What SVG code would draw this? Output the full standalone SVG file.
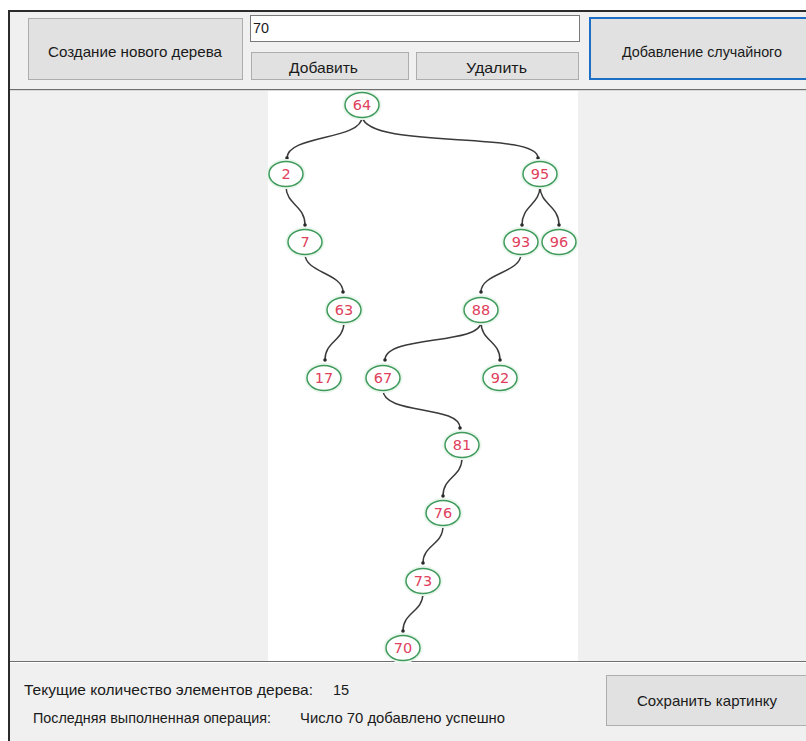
<svg xmlns="http://www.w3.org/2000/svg" width="806" height="741" viewBox="0 0 806 741">
<defs>
<style>
.ui{font-family:"Liberation Sans","DejaVu Sans",sans-serif;font-size:14.5px;fill:#1a1a1a}
.btn{fill:#e1e1e1;stroke:#adadad;stroke-width:1}
.nd ellipse{fill:#ffffff;stroke:#3f9a5c;stroke-width:1.5}
.nd .halo{fill:none;stroke:#e8f6ec;stroke-width:3}
.nd text{font-family:"DejaVu Sans","Noto Sans",sans-serif;font-size:14.5px;fill:#e0405c;text-anchor:middle}
.edge{fill:none;stroke:#3a3a3a;stroke-width:1.5}
.dot{fill:#2a2a2a}
</style>
</defs>
<rect x="0" y="0" width="806" height="741" fill="#ffffff"/>
<rect x="9" y="11" width="797" height="730" fill="#f0f0f0"/>
<line x1="8" y1="11" x2="806" y2="11" stroke="#2b2b2b" stroke-width="2"/>
<line x1="9" y1="10" x2="9" y2="741" stroke="#2b2b2b" stroke-width="2"/>
<!-- canvas -->
<rect x="268" y="90" width="310" height="571" fill="#ffffff"/>
<line x1="10" y1="89.5" x2="806" y2="89.5" stroke="#6e6e6e" stroke-width="1"/>
<line x1="10" y1="90.5" x2="806" y2="90.5" stroke="#d8d8d8" stroke-width="1"/>
<line x1="10" y1="661.5" x2="806" y2="661.5" stroke="#6e6e6e" stroke-width="1"/>
<line x1="10" y1="662.5" x2="806" y2="662.5" stroke="#ffffff" stroke-width="1"/>
<!-- top controls -->
<g id="btn-create"><rect class="btn" x="28.5" y="18.5" width="214" height="61"/><text class="ui" x="48" y="57" textLength="174" lengthAdjust="spacingAndGlyphs">Создание нового дерева</text></g>
<g id="input"><rect x="250.5" y="15.5" width="329" height="26" fill="#ffffff" stroke="#7a7a7a"/><text class="ui" x="253" y="33" textLength="16" lengthAdjust="spacingAndGlyphs">70</text></g>
<g id="btn-add"><rect class="btn" x="251.5" y="52.5" width="157" height="27"/><text class="ui" x="289" y="73" textLength="69" lengthAdjust="spacingAndGlyphs">Добавить</text></g>
<g id="btn-del"><rect class="btn" x="416.5" y="52.5" width="162" height="27"/><text class="ui" x="466" y="73" textLength="61" lengthAdjust="spacingAndGlyphs">Удалить</text></g>
<g id="btn-random"><rect x="590" y="18" width="230" height="61" fill="#e1e1e1" stroke="#1c6fc4" stroke-width="2"/><text class="ui" x="622" y="57" textLength="160" lengthAdjust="spacingAndGlyphs">Добавление случайного</text></g>
<!-- bottom -->
<g id="count"><text class="ui" x="24" y="695" textLength="289" lengthAdjust="spacingAndGlyphs">Текущие количество элементов дерева:</text><text class="ui" x="333" y="695">15</text></g>
<g id="lastop"><text class="ui" x="33" y="723" textLength="238" lengthAdjust="spacingAndGlyphs">Последняя выполненная операция:</text><text class="ui" x="300" y="723" textLength="205" lengthAdjust="spacingAndGlyphs">Число 70 добавлено успешно</text></g>
<g id="btn-save"><rect class="btn" x="606.5" y="675.5" width="210" height="50"/><text class="ui" x="637" y="706" textLength="140" lengthAdjust="spacingAndGlyphs">Сохранить картинку</text></g>
<!-- connectors -->
<g id="connectors">
<path class="edge" d="M362,117 C362,140 287,135 287,158"/>
<path class="edge" d="M362,117 C370,150 538,130 538,158"/>
<path class="edge" d="M540,186 C540,205 522,205 522,225"/>
<path class="edge" d="M540,186 C540,205 559,205 559,225"/>
<path class="edge" d="M286,186 C286,205 305,205 305,225"/>
<path class="edge" d="M305,254 C305,273 343,273 343,292"/>
<path class="edge" d="M521,254 C521,273 481,273 481,292"/>
<path class="edge" d="M344,322 C344,341 325,341 325,360"/>
<path class="edge" d="M481,322 C481,345 385,335 385,360"/>
<path class="edge" d="M481,322 C481,341 500,341 500,360"/>
<path class="edge" d="M383,390 C383,415 460,405 460,428"/>
<path class="edge" d="M462,458 C462,477 443,477 443,496"/>
<path class="edge" d="M443,526 C443,545 423,545 423,563"/>
<path class="edge" d="M423,593 C423,612 403,612 403,631"/>
<circle class="dot" cx="287" cy="158" r="1.8"/>
<circle class="dot" cx="538" cy="158" r="1.8"/>
<circle class="dot" cx="522" cy="225" r="1.8"/>
<circle class="dot" cx="559" cy="225" r="1.8"/>
<circle class="dot" cx="305" cy="225" r="1.8"/>
<circle class="dot" cx="343" cy="292" r="1.8"/>
<circle class="dot" cx="481" cy="292" r="1.8"/>
<circle class="dot" cx="325" cy="360" r="1.8"/>
<circle class="dot" cx="385" cy="360" r="1.8"/>
<circle class="dot" cx="500" cy="360" r="1.8"/>
<circle class="dot" cx="460" cy="428" r="1.8"/>
<circle class="dot" cx="443" cy="496" r="1.8"/>
<circle class="dot" cx="423" cy="563" r="1.8"/>
<circle class="dot" cx="403" cy="631" r="1.8"/>
</g>
<!-- nodes -->
<g id="n64" class="nd"><ellipse class="halo" cx="362" cy="105" rx="18" ry="13.5"/><ellipse cx="362" cy="105" rx="17" ry="12.5"/><text x="362" y="110">64</text></g>
<g id="n2" class="nd"><ellipse class="halo" cx="286" cy="174" rx="18" ry="13.5"/><ellipse cx="286" cy="174" rx="17" ry="12.5"/><text x="286" y="179">2</text></g>
<g id="n95" class="nd"><ellipse class="halo" cx="540" cy="174" rx="18" ry="13.5"/><ellipse cx="540" cy="174" rx="17" ry="12.5"/><text x="540" y="179">95</text></g>
<g id="n7" class="nd"><ellipse class="halo" cx="305" cy="242" rx="18" ry="13.5"/><ellipse cx="305" cy="242" rx="17" ry="12.5"/><text x="305" y="247">7</text></g>
<g id="n93" class="nd"><ellipse class="halo" cx="521" cy="242" rx="18" ry="13.5"/><ellipse cx="521" cy="242" rx="17" ry="12.5"/><text x="521" y="247">93</text></g>
<g id="n96" class="nd"><ellipse class="halo" cx="559" cy="242" rx="18" ry="13.5"/><ellipse cx="559" cy="242" rx="17" ry="12.5"/><text x="559" y="247">96</text></g>
<g id="n63" class="nd"><ellipse class="halo" cx="344" cy="310" rx="18" ry="13.5"/><ellipse cx="344" cy="310" rx="17" ry="12.5"/><text x="344" y="315">63</text></g>
<g id="n88" class="nd"><ellipse class="halo" cx="481" cy="310" rx="18" ry="13.5"/><ellipse cx="481" cy="310" rx="17" ry="12.5"/><text x="481" y="315">88</text></g>
<g id="n17" class="nd"><ellipse class="halo" cx="324" cy="378" rx="18" ry="13.5"/><ellipse cx="324" cy="378" rx="17" ry="12.5"/><text x="324" y="383">17</text></g>
<g id="n67" class="nd"><ellipse class="halo" cx="383" cy="378" rx="18" ry="13.5"/><ellipse cx="383" cy="378" rx="17" ry="12.5"/><text x="383" y="383">67</text></g>
<g id="n92" class="nd"><ellipse class="halo" cx="500" cy="378" rx="18" ry="13.5"/><ellipse cx="500" cy="378" rx="17" ry="12.5"/><text x="500" y="383">92</text></g>
<g id="n81" class="nd"><ellipse class="halo" cx="462" cy="445" rx="18" ry="13.5"/><ellipse cx="462" cy="445" rx="17" ry="12.5"/><text x="462" y="450">81</text></g>
<g id="n76" class="nd"><ellipse class="halo" cx="443" cy="513" rx="18" ry="13.5"/><ellipse cx="443" cy="513" rx="17" ry="12.5"/><text x="443" y="518">76</text></g>
<g id="n73" class="nd"><ellipse class="halo" cx="423" cy="581" rx="18" ry="13.5"/><ellipse cx="423" cy="581" rx="17" ry="12.5"/><text x="423" y="586">73</text></g>
<g id="n70" class="nd"><ellipse class="halo" cx="403" cy="648" rx="18" ry="13.5"/><ellipse cx="403" cy="648" rx="17" ry="12.5"/><text x="403" y="653">70</text></g>
</svg>
